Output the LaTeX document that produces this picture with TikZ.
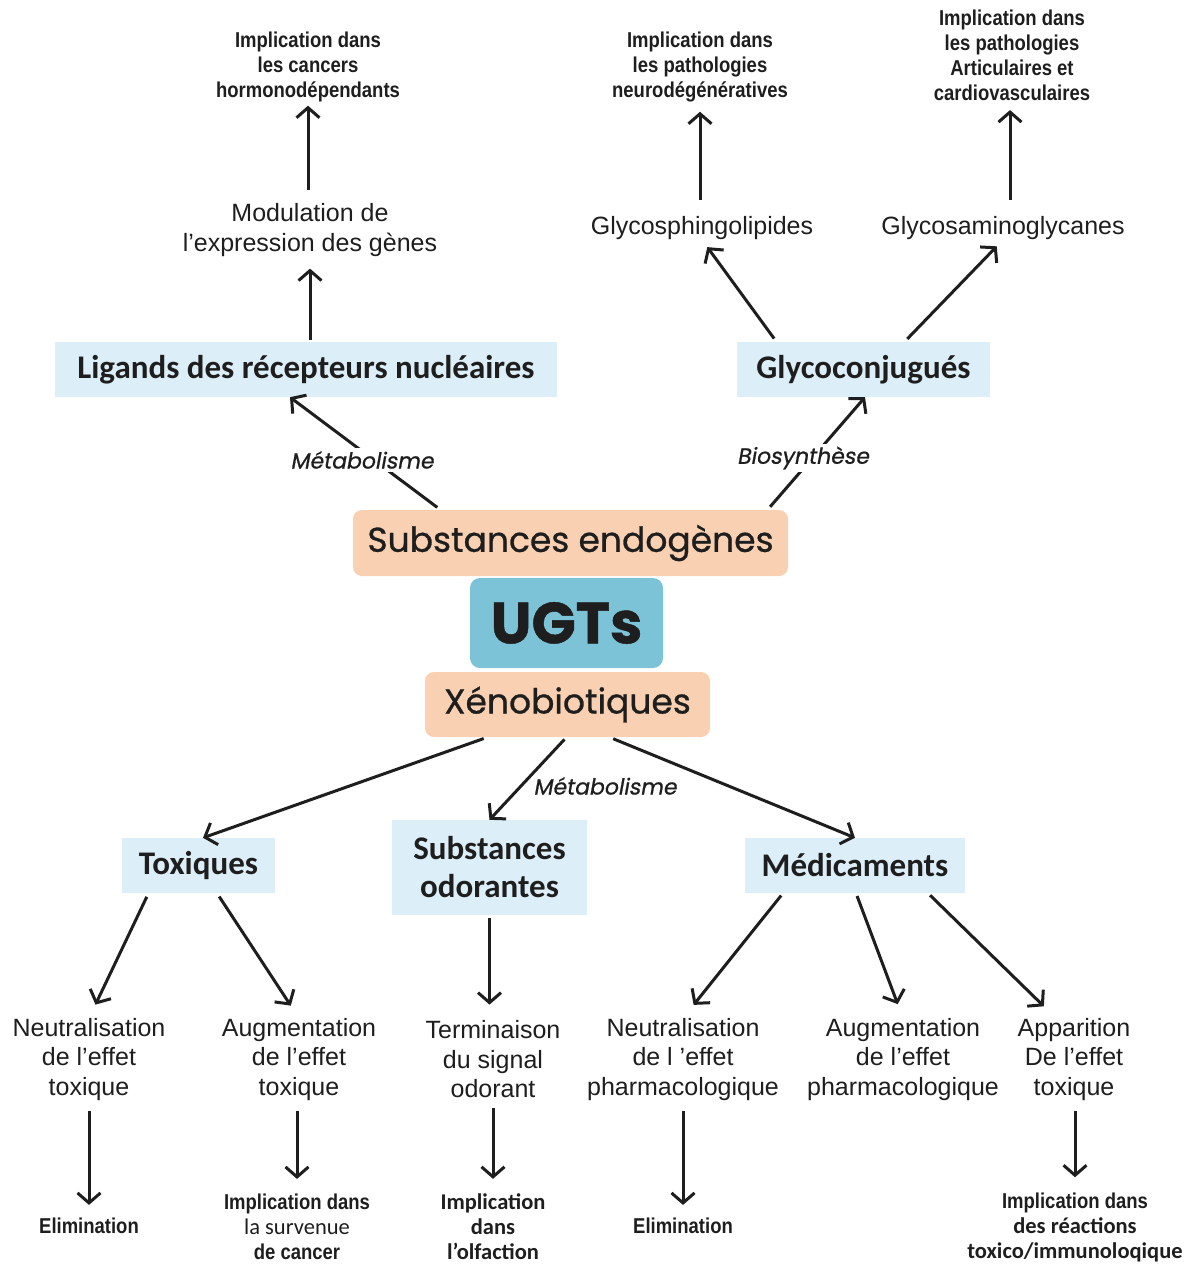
\documentclass[tikz,border=0pt]{standalone}
\usepackage{fontspec}
\setmainfont{Liberation Sans}
\newfontfamily\arialf{Liberation Sans}
\newfontfamily\narrowf[FakeStretch=0.86]{Liberation Sans}
\newfontfamily\calib{Carlito}
\newfontfamily\comicf[FakeBold=0.8]{Poppins}
\newfontfamily\comicit[FakeSlant=0.18,FakeBold=0.8]{Poppins}
\usetikzlibrary{arrows.meta,calc}
\definecolor{lblue}{HTML}{DCEEF8}
\definecolor{peach}{HTML}{F9D0B2}
\definecolor{ublue}{HTML}{7CC3D7}
\definecolor{ink}{HTML}{1E1E1E}
\newcommand{\calb}{\calib\bfseries\fontsize{22.5}{25}\selectfont}
\begin{document}
\begin{tikzpicture}[x=1pt,y=-1pt,
  every node/.style={text=ink},
  arr/.style={draw=ink,line width=3pt,-{Straight Barb[length=10pt,width=23pt]}},
  bbox/.style={fill=lblue,inner sep=0pt,align=center,font=\calib\bfseries\fontsize{33}{38}\selectfont},
  pbox/.style={fill=peach,rounded corners=9pt,inner sep=0pt,font=\comicf\fontsize{34.5}{40}\selectfont},
  small/.style={inner sep=0pt,align=center,font=\narrowf\bfseries\fontsize{21.5}{25}\selectfont},
  mid/.style={inner sep=0pt,align=center,font=\arialf\fontsize{25}{29.5}\selectfont},
  lab/.style={inner sep=3pt,font=\comicit\fontsize{22}{26}\selectfont}]
\useasboundingbox (0,0) rectangle (1194,1267);
\fill[white] (0,0) rectangle (1194,1267);

% centre
\node[pbox,minimum width=435pt,minimum height=66pt] (endo) at (570.5,543) {Substances endogènes};
\node[fill=ublue,rounded corners=10pt,minimum width=193pt,minimum height=90pt,inner sep=0pt,font=\comicf\bfseries\fontsize{58}{60}\selectfont] (ugt) at (566.5,623) {UGTs};
\node[pbox,minimum width=285pt,minimum height=65pt] (xeno) at (567.5,704.5) {Xénobiotiques};

% upper part
\node[bbox,minimum width=502pt,minimum height=55pt] (lig) at (306,369.5) {Ligands des récepteurs nucléaires};
\node[bbox,minimum width=253pt,minimum height=55pt] (glyco) at (863.5,369.5) {Glycoconjugués};
\node[mid] (mod) at (310,230) {Modulation de\\l’expression des gènes};
\node[small] (imp1) at (308,66.5) {Implication dans\\les cancers\\hormonodépendants};
\node[mid] (gsl) at (702,228) {Glycosphingolipides};
\node[mid] (gag) at (1003,228) {Glycosaminoglycanes};
\node[small] (imp2) at (700,66.5) {Implication dans\\les pathologies\\neurodégénératives};
\node[small] (imp3) at (1012,55.5) {Implication dans\\les pathologies\\Articulaires et\\cardiovasculaires};

\draw[arr,shorten <=2pt,shorten >=12pt] (lig.north -| mod.south) -- (mod.south);
\draw[arr,shorten <=13pt,shorten >=4pt] (mod.north -| imp1.south) -- (imp1.south);
\draw[arr,shorten <=4pt,shorten >=9pt] ([xshift=-87pt]glyco.north) -- (gsl.south);
\draw[arr,shorten <=4pt,shorten >=9pt] ([xshift=41pt]glyco.north) -- (gag.south);
\draw[arr,shorten <=16pt,shorten >=10pt] (gsl.north -| imp2.south) -- (imp2.south);
\draw[arr,shorten <=16pt,shorten >=9pt] ([xshift=7pt]gag.north) -- ([xshift=-2pt]imp3.south);

\draw[arr,shorten <=4pt] ([xshift=-130pt]endo.north) -- ([xshift=-16pt]lig.south);
\node[lab,fill=white] (met1) at (362,460) {Métabolisme};
\draw[arr,shorten <=4pt] ([xshift=197pt]endo.north) -- ([xshift=1.5pt]glyco.south);
\node[lab,fill=white] (bio) at (803,458) {Biosynthèse};

% lower part
\node[bbox,minimum width=153pt,minimum height=55pt] (tox) at (198.5,865.5) {Toxiques};
\node[bbox,minimum width=195pt,minimum height=95pt] (odo) at (489.5,867.5) {Substances\\odorantes};
\node[bbox,minimum width=220pt,minimum height=55pt] (med) at (855,865.5) {Médicaments};

\draw[arr,shorten <=4pt] ([xshift=-80pt]xeno.south) -- ([xshift=4.5pt]tox.north);
\draw[arr,shorten <=3pt] ([xshift=-1pt]xeno.south) -- (odo.north);
\draw[arr,shorten <=4pt] ([xshift=42pt]xeno.south) -- (med.north);
\node[lab] (met2) at (605,786) {Métabolisme};

\node[mid] (neu1) at (89,1059.5) {Neutralisation\\de l’effet\\toxique};
\node[mid] (aug1) at (299,1059.5) {Augmentation\\de l’effet\\toxique};
\node[mid] (ter) at (493,1059.5) {Terminaison\\du signal\\odorant};
\node[mid] (neu2) at (683,1059.5) {Neutralisation\\de l ’effet\\pharmacologique};
\node[mid] (aug2) at (903,1059.5) {Augmentation\\de l’effet\\pharmacologique};
\node[mid] (app) at (1074,1059.5) {Apparition\\De l’effet\\toxique};

\draw[arr,shorten <=4pt,shorten >=15pt] ([xshift=-50pt]tox.south) -- (neu1.north);
\draw[arr,shorten <=4pt,shorten >=15pt] ([xshift=18.5pt]tox.south) -- (aug1.north);
\draw[arr,shorten <=3pt,shorten >=16pt] (odo.south) -- (odo.south |- ter.north);
\draw[arr,shorten <=3pt,shorten >=17pt] ([xshift=-72pt]med.south) -- (neu2.north);
\draw[arr,shorten <=3pt,shorten >=15pt] ([xshift=1pt]med.south) -- (aug2.north);
\draw[arr,shorten <=3pt,shorten >=17pt] ([xshift=73pt]med.south) -- ([xshift=-18pt]app.north);

\node[small] (elim1) at (89,1226) {Elimination};
\node[small] (imp4) at (297,1227) {Implication dans\\{\calib\mdseries\fontsize{22.5}{25}\selectfont la survenue}\\de cancer};
\node[small,font=\calb] (imp5) at (493,1227) {Implication\\dans\\l’olfaction};
\node[small] (elim2) at (683,1226) {Elimination};
\node[small] (imp6) at (1075,1227) {Implication dans\\{\calb des réactions}\\{\calb toxico/immunoloqique}};

\draw[arr,shorten <=10pt,shorten >=13pt] (neu1.south) -- (elim1.north);
\draw[arr,shorten <=10pt,shorten >=15pt] (aug1.south -| imp4.north) -- (imp4.north);
\draw[arr,shorten <=10pt,shorten >=15pt] (ter.south) -- (ter.south |- imp5.north);
\draw[arr,shorten <=10pt,shorten >=13pt] (neu2.south) -- (elim2.north);
\draw[arr,shorten <=10pt,shorten >=15pt] (app.south -| imp6.north) -- (imp6.north);
\end{tikzpicture}
\end{document}
